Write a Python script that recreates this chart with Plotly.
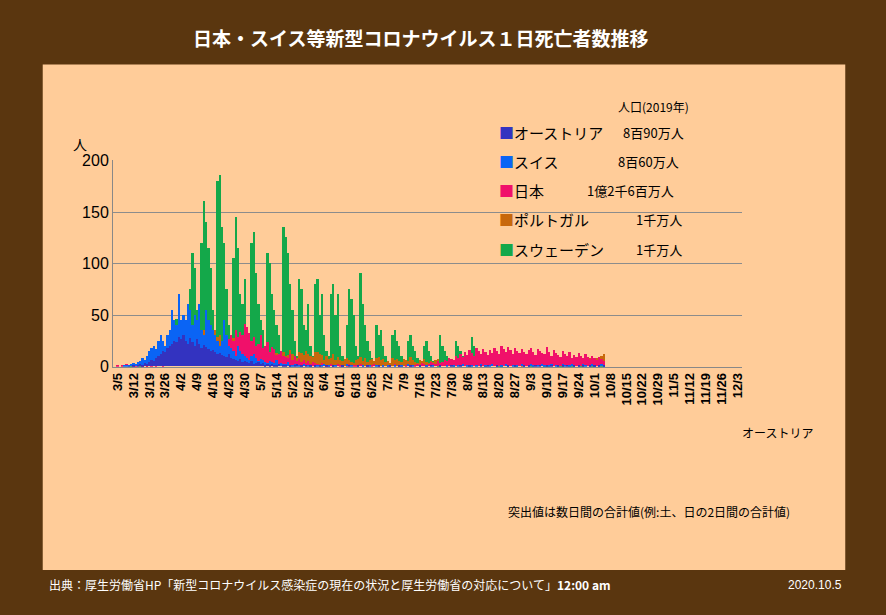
import plotly.graph_objects as go
import pandas as pd

dates = pd.date_range("2020-03-05", "2020-10-05", freq="D")

sweden = ([0,0,0,0,0,0,1,0,0,0,1,2,3,1,5,3,7,5,10,8,15,12,10,25,30,35,46]
          + [30,45,10,20,55,75,110,95,55,20,120,160,140,115,95,55,25,180,185,135,120,75,40,15,105,145,115,70,60,85]
          + [20,10,120,130,90,60,45,35,15,110,100,70,55,40,30,15,135,125,110,80,55,25,10,85,75,40,35,60,20,10,80]
          + [85,50,70,30,15,10,70,80,50,70,20,10,5,40,75,65,50,20,10,90,60,40,25,15,8,5,40,30,35,20]
          + [10,5,3,30,35,25,20,10,5,2,25,30,20,15,8,3,2,20,25,15,10,5,2,1,30,20,15,10,5,2,1]
          + [25,20,15,10,5,2,1,28,20,12,8,5,2,1,10,15,10,6,3,1,1,8,12,6,4,2,1,1,5,8,4]
          + [3,2,1,1,10,4,3,2,1,1,1,6,3,2,1,1,1,4,2,1,1,1,3,2,1,1,0,3,2,1]
          + [1,0,2,1,1])

portugal = ([0,0,0,0,0,0,0,0,0,0,0,1,0,1,2,3,2,6,9,10,10,14,17,20,22,20,16]
            + [24,22,20,29,25,35,28,30,26,29,26,35,30,25,20,22,35,28,30,22,25,24,20,25,27,18,16,20,16,14]
            + [18,15,20,16,12,10,15,10,12,13,9,14,10,13,8,12,14,10,11,16,12,9,8,14,13,11,15,12,10,9,14]
            + [14,12,11,6,10,7,8,12,6,9,6,5,7,8,6,4,3,6,7,9,5,8,4,6,7,5,8,9,6,7]
            + [4,5,3,8,6,7,5,4,7,6,5,9,6,4,3,6,5,7,4,3,5,4,6,7,3,4,6,5,3,4,5]
            + [3,2,4,3,2,3,4,2,3,4,2,2,3,1,2,4,3,2,2,3,4,3,2,1,3,2,4,3,2,1,2]
            + [3,2,4,5,3,2,4,6,3,5,4,3,2,5,4,6,3,4,5,7,4,3,6,5,4,6,7,5,8,9]
            + [6,8,7,10,12])

japan = ([1,0,1,0,2,1,0,1,1,0,2,1,0,1,2,1,2,1,3,2,1,3,2,4,3,5,4]
         + [3,5,4,6,7,5,8,9,7,10,12,8,11,9,15,13,18,16,14,20,22,19,26,30,25,35,28,33,30,41]
         + [38,32,25,28,20,22,30,18,20,24,14,19,17,11,12,15,10,9,8,12,6,10,5,7,4,6,3,5,2,4,3]
         + [2,1,3,2,1,1,2,1,0,2,1,1,0,1,2,0,1,1,0,2,1,0,1,0,1,2,0,1,0,1]
         + [0,1,1,0,2,0,1,1,0,1,2,1,0,1,2,1,3,2,1,2,4,3,2,5,3,4,6,5,8,7,6]
         + [10,8,12,9,14,11,16,13,10,18,15,12,17,14,11,16,13,18,15,12,20,17,14,19,16,12,18,15,13,17,14]
         + [12,16,18,14,11,17,15,13,12,19,14,10,16,13,11,9,15,12,10,14,8,11,9,13,10,8,12,9,7,10]
         + [8,6,9,7,5])

switzerland = ([0,0,0,1,1,1,2,3,2,4,5,8,6,10,15,18,20,17,25,30,25,20,30,35,55,45,40]
               + [70,45,50,45,60,55,40,50,45,60,35,30,55,45,40,35,30,25,20,25,45,30,20,18,15,10,20,15,12,10]
               + [8,6,10,12,8,5,7,6,4,3,5,4,3,6,2,3,2,2,4,1,1,2,1,1,1,2,0,1,1,0,1]
               + [1,0,1,2,0,1,0,1,1,0,0,1,0,2,0,1,0,0,1,0,1,0,0,1,0,0,1,0,0,1]
               + [0,1,0,0,1,0,0,1,0,0,2,0,1,0,0,1,0,0,1,0,0,1,0,0,1,0,0,1,0,0,1]
               + [0,1,0,2,0,1,0,1,0,1,0,2,0,1,0,1,2,0,1,0,1,0,2,1,0,1,0,1,0,2,1]
               + [0,1,2,1,0,1,0,2,1,0,1,2,0,1,1,0,2,1,0,1,2,1,0,1,0,2,1,0,1,2]
               + [1,0,1,2,1])

austria = ([0,0,0,0,0,0,0,1,0,1,2,1,3,2,4,6,5,8,10,12,15,14,18,20,22,25,24]
           + [28,26,30,25,22,27,24,20,26,22,18,21,19,17,15,16,14,12,13,11,10,9,12,8,7,6,5,7,4,5]
           + [4,3,5,2,3,4,2,3,1,2,1,2,1,1,2,0,1,1,0,1,0,1,2,0,1,0,1,0,1,0,1]
           + [0,1,0,0,1,0,0,1,0,0,0,1,0,0,1,0,0,0,1,0,0,0,1,0,0,0,0,1,0,0]
           + [0,0,1,0,0,0,1,0,0,0,0,1,0,0,0,1,0,0,0,0,1,0,0,0,1,0,0,0,0,1,0]
           + [0,0,1,0,0,0,1,0,0,0,0,1,0,0,1,0,0,0,1,0,0,0,0,1,0,0,1,0,0,0,1]
           + [0,1,0,0,1,0,1,0,0,1,0,1,0,0,1,0,1,0,1,0,0,1,0,1,0,1,0,0,1,0]
           + [1,0,1,0,1])

series = [
    ("スウェーデン", sweden, "#14a84a", "1千万人"),
    ("ポルトガル", portugal, "#c8680c", "1千万人"),
    ("日本", japan, "#f0106a", "1億2千6百万人"),
    ("スイス", switzerland, "#0a64f5", "8百60万人"),
    ("オーストリア", austria, "#3333c0", "8百90万人"),
]

tickvals = pd.date_range("2020-03-05", "2020-12-03", freq="7D")
ticktext = [f"<b>{d.month}/{d.day}</b>" for d in tickvals]

fig = go.Figure()
for name, vals, color, pop in series:
    fig.add_trace(go.Bar(x=dates, y=vals, name=name, marker_color=color,
                         marker_line_width=0, showlegend=False))

font = "Noto Sans CJK JP"
fig.update_layout(
    width=886, height=615,
    margin=dict(l=0, r=0, t=0, b=0),
    paper_bgcolor="#5a360f",
    plot_bgcolor="rgba(0,0,0,0)",
    font=dict(family=font, color="black"),
    barmode="overlay", bargap=0,
    xaxis=dict(domain=[0.125, 0.84], range=["2020-03-03", "2020-12-05"],
               tickvals=tickvals, ticktext=ticktext, tickangle=-90,
               tickfont=dict(size=13, family="Liberation Sans", color="black"),
               showgrid=False, showline=True, linecolor="#888"),
    yaxis=dict(domain=[0.4, 0.745], range=[0, 200], dtick=50,
               tickfont=dict(size=16, family="Liberation Sans"),
               gridcolor="#8c8c8c", showline=True, linecolor="#888", zeroline=False),
    shapes=[dict(type="rect", xref="paper", yref="paper", x0=40/886, x1=848/886,
                 y0=1-578/615, y1=1-58/615, fillcolor="#ffcc99", line_width=0,
                 layer="below")],
)

ann = [
    dict(x=420/886, y=1-30/615, text="<b>日本・スイス等新型コロナウイルス１日死亡者数推移</b>",
         font=dict(size=19, color="white")),
    dict(x=655/886, y=1-101/615, text="人口(2019年)", font=dict(size=12)),
    dict(x=78/886, y=1-140/615, text="人", font=dict(size=14)),
    dict(x=780/886, y=1-437/615, text="オーストリア", font=dict(size=12)),
    dict(x=650/886, y=1-518/615, text="突出値は数日間の合計値(例:土、日の2日間の合計値)",
         font=dict(size=12)),
    dict(x=44/886, y=1-593/615, xanchor="left",
         text="出典：厚生労働省HP「新型コロナウイルス感染症の現在の状況と厚生労働省の対応について」<b>12:00 am</b>",
         font=dict(size=12, color="white")),
    dict(x=818/886, y=1-593/615, text="2020.10.5", font=dict(size=12, color="white",
                                                              family="Liberation Sans")),
]
pop_x = [655, 650, 632, 660, 660]
for i, (name, vals, color, pop) in enumerate(reversed(series)):
    yy = 1 - (128 + 30 * i) / 615
    ann.append(dict(x=497/886, y=yy, xanchor="left", text=f"<span style='color:{color}'>■</span>{name}",
                    font=dict(size=15)))
    ann.append(dict(x=pop_x[i]/886, y=yy, text=pop, font=dict(size=13)))
for a in ann:
    a.update(xref="paper", yref="paper", showarrow=False, yanchor="middle")
    if "xanchor" not in a:
        a["xanchor"] = "center"
fig.update_layout(annotations=ann)

fig.write_html("out.html", config={"displayModeBar": False},
               post_script="document.body.style.margin='0';")
